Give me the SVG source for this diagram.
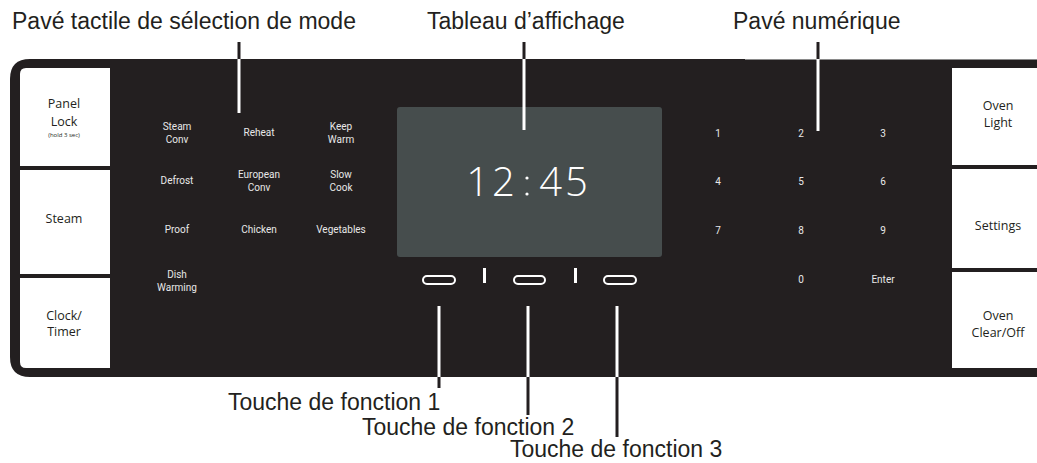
<svg xmlns="http://www.w3.org/2000/svg" width="1037" height="463" viewBox="0 0 1037 463">
<style>
.lbl{font-family:"Liberation Sans",Arial,sans-serif;font-size:23px;fill:#231f20}
.btn{fill:#ffffff}
.bt{font-family:"Open Sans","Noto Sans",sans-serif;font-size:12.5px;fill:#231f20;text-anchor:middle}
.mode{font-family:Roboto,"Liberation Sans",sans-serif;font-size:10px;fill:#e8e8e8;text-anchor:middle}
.pill{fill:none;stroke:#ffffff;stroke-width:2}
.lw{stroke:#ffffff;stroke-width:3}
.ld{stroke:#231f20;stroke-width:3}
</style>
<rect width="1037" height="463" fill="#ffffff"/>
<g id="panel">
<path d="M30,59 H1037 V377 H30 Q10,377 10,357 V79 Q10,59 30,59 Z" fill="#231f20"/>
<line x1="745" y1="59.5" x2="1037" y2="59.5" stroke="#8a8a8a" stroke-width="1"/>
</g>
<g id="btn-panel-lock">
<path class="btn" d="M26,68 H110 V166 H20 V74 Q20,68 26,68 Z"/>
<text class="bt" x="64" y="108">Panel</text>
<text class="bt" x="64" y="126">Lock</text>
<text class="bt" x="64" y="137" style="font-size:6px">(hold 3 sec)</text>
</g>
<g id="btn-steam">
<rect class="btn" x="20" y="170" width="90" height="104"/>
<text class="bt" x="64" y="223">Steam</text>
</g>
<g id="btn-clock-timer">
<path class="btn" d="M20,278 H110 V368 H26 Q20,368 20,362 Z"/>
<text class="bt" x="64" y="320">Clock/</text>
<text class="bt" x="64" y="336">Timer</text>
</g>
<g id="btn-oven-light">
<rect class="btn" x="952" y="68" width="85" height="97"/>
<text class="bt" x="998" y="110">Oven</text>
<text class="bt" x="998" y="127">Light</text>
</g>
<g id="btn-settings">
<rect class="btn" x="952" y="169" width="85" height="99"/>
<text class="bt" x="998" y="230">Settings</text>
</g>
<g id="btn-oven-clear">
<rect class="btn" x="952" y="272" width="85" height="96"/>
<text class="bt" x="998" y="320">Oven</text>
<text class="bt" x="998" y="337">Clear/Off</text>
</g>
<g id="mode-pad">
<text class="mode" x="177" y="130">Steam</text>
<text class="mode" x="177" y="143">Conv</text>
<text class="mode" x="259" y="136">Reheat</text>
<text class="mode" x="341" y="130">Keep</text>
<text class="mode" x="341" y="143">Warm</text>
<text class="mode" x="177" y="184">Defrost</text>
<text class="mode" x="259" y="178">European</text>
<text class="mode" x="259" y="191">Conv</text>
<text class="mode" x="341" y="178">Slow</text>
<text class="mode" x="341" y="191">Cook</text>
<text class="mode" x="177" y="233">Proof</text>
<text class="mode" x="259" y="233">Chicken</text>
<text class="mode" x="341" y="233">Vegetables</text>
<text class="mode" x="177" y="278">Dish</text>
<text class="mode" x="177" y="291">Warming</text>
</g>
<g id="display">
<rect x="397" y="107" width="265" height="150" rx="3" fill="#464d4d"/>
<text x="492" y="196" font-family="'Open Sans','Noto Sans',sans-serif" font-weight="300" font-size="40" fill="#ffffff" text-anchor="middle" letter-spacing="3">12</text>
<circle cx="527" cy="178" r="1.6" fill="#ffffff"/>
<circle cx="527" cy="194" r="1.6" fill="#ffffff"/>
<text x="565" y="196" font-family="'Open Sans','Noto Sans',sans-serif" font-weight="300" font-size="40" fill="#ffffff" text-anchor="middle" letter-spacing="3">45</text>
</g>
<g id="soft-keys">
<rect class="pill" x="423" y="276" width="32" height="8" rx="4"/>
<rect class="pill" x="514" y="276" width="31" height="8" rx="4"/>
<rect class="pill" x="604" y="276" width="32" height="8" rx="4"/>
<rect x="483" y="268" width="3" height="15" fill="#ffffff"/>
<rect x="574" y="268" width="3" height="15" fill="#ffffff"/>
</g>
<g id="numeric-pad">
<text class="mode" x="718" y="137">1</text>
<text class="mode" x="801" y="137">2</text>
<text class="mode" x="883" y="137">3</text>
<text class="mode" x="718" y="185">4</text>
<text class="mode" x="801" y="185">5</text>
<text class="mode" x="883" y="185">6</text>
<text class="mode" x="718" y="234">7</text>
<text class="mode" x="801" y="234">8</text>
<text class="mode" x="883" y="234">9</text>
<text class="mode" x="801" y="283">0</text>
<text class="mode" x="883" y="283">Enter</text>
</g>
<g id="connectors">
<line class="ld" x1="239" y1="42" x2="239" y2="59"/>
<line class="lw" x1="239" y1="59" x2="239" y2="113"/>
<line class="ld" x1="524" y1="42" x2="524" y2="59"/>
<line class="lw" x1="524" y1="59" x2="524" y2="130"/>
<line class="ld" x1="818" y1="42" x2="818" y2="59"/>
<line class="lw" x1="818" y1="59" x2="818" y2="131"/>
<line class="lw" x1="439" y1="306" x2="439" y2="377"/>
<line class="ld" x1="439" y1="377" x2="439" y2="388"/>
<line class="lw" x1="528" y1="306" x2="528" y2="377"/>
<line class="ld" x1="528" y1="377" x2="528" y2="415"/>
<line class="lw" x1="617" y1="306" x2="617" y2="377"/>
<line class="ld" x1="617" y1="377" x2="617" y2="437"/>
</g>
<g id="labels">
<text class="lbl" x="12" y="29">Pavé tactile de sélection de mode</text>
<text class="lbl" x="427" y="29">Tableau d’affichage</text>
<text class="lbl" x="733" y="29">Pavé numérique</text>
<text class="lbl" x="228" y="410">Touche de fonction 1</text>
<text class="lbl" x="362" y="435">Touche de fonction 2</text>
<text class="lbl" x="510" y="457">Touche de fonction 3</text>
</g>
</svg>
